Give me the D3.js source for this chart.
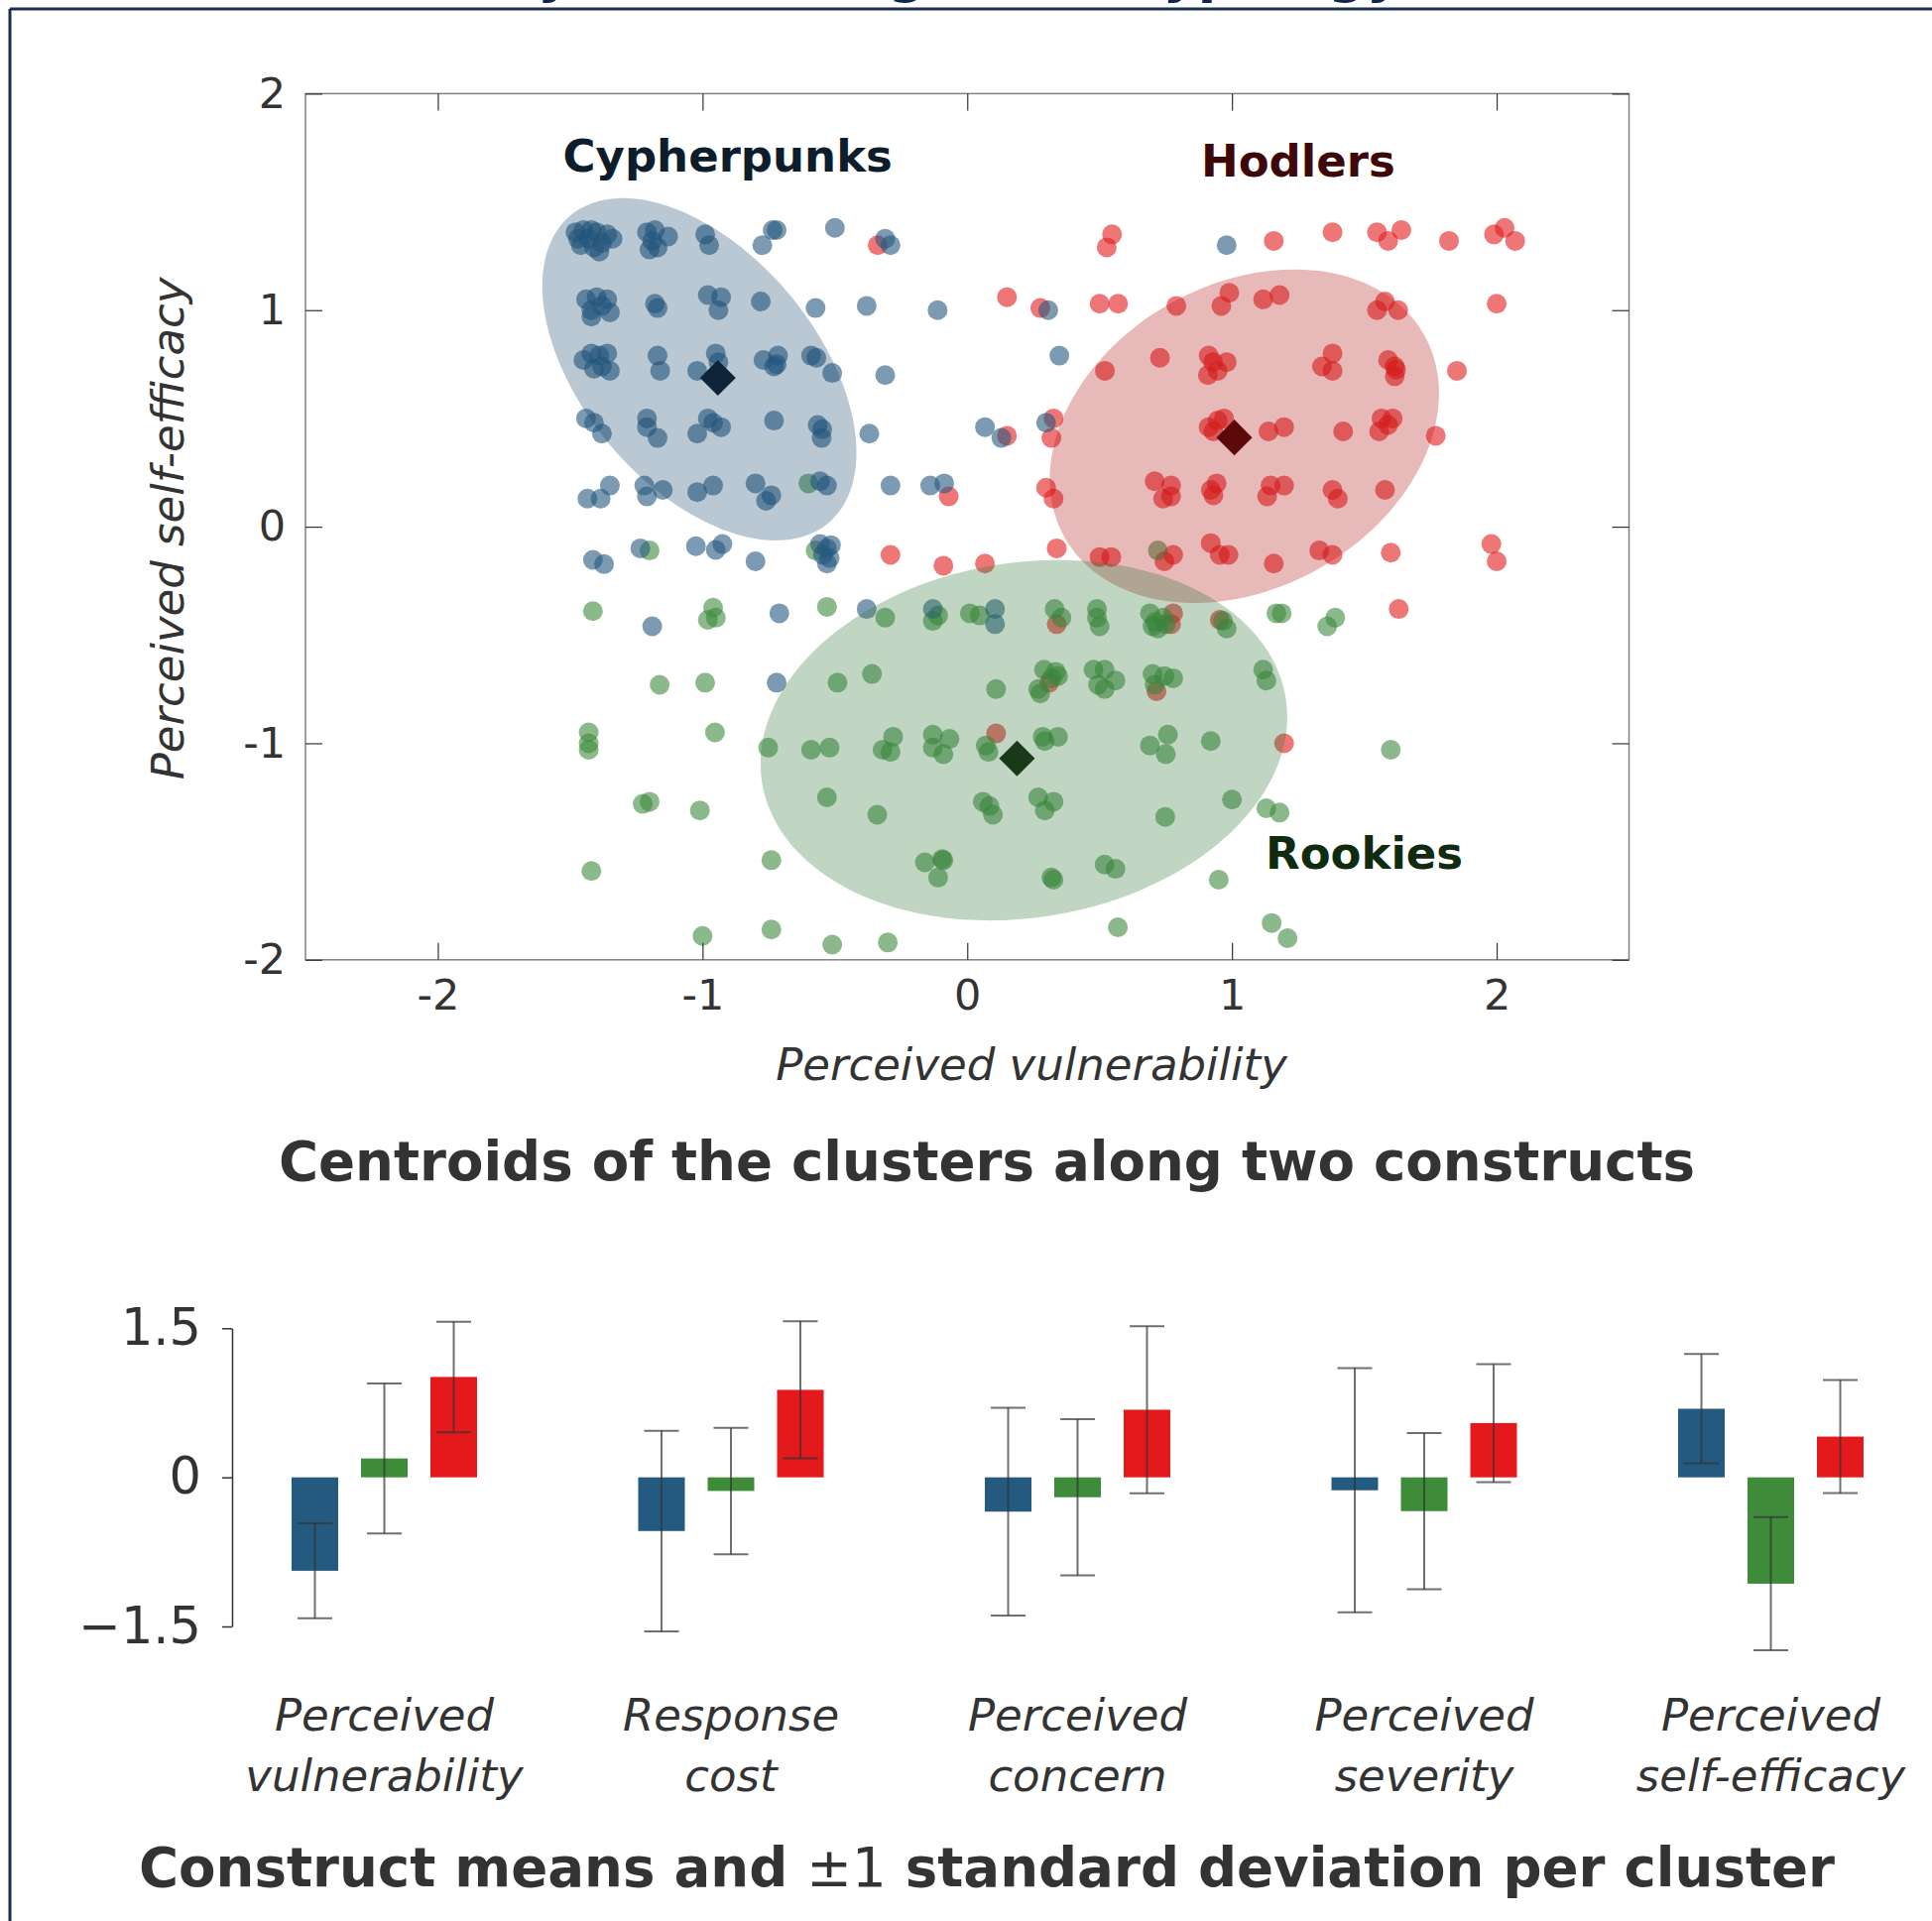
<!DOCTYPE html>
<html>
<head>
<meta charset="utf-8">
<script src="https://cdn.jsdelivr.net/npm/d3@7"></script>
<style>
  body { margin: 0; background: #fff; }
  text { font-family: 'DejaVu Sans', sans-serif; }
</style>
</head>
<body>
<script>
// ---- scatter data: [perceived vulnerability, perceived self-efficacy] per respondent
var cypherpunks = [
  [-1.48, 1.36], [-1.46, 1.30], [-1.45, 1.37], [-1.43, 1.33], [-1.41, 1.29], [-1.40, 1.36], [-1.38, 1.31], [-1.36, 1.35],
  [-1.34, 1.33], [-1.47, 1.33], [-1.42, 1.37], [-1.39, 1.27], [-1.21, 1.36], [-1.19, 1.32], [-1.17, 1.29], [-1.13, 1.34],
  [-1.20, 1.28], [-1.18, 1.37], [-0.99, 1.35], [-0.975, 1.30], [-0.774, 1.30], [-0.735, 1.37], [-0.72, 1.37], [-0.50, 1.38],
  [-0.31, 1.33], [-0.29, 1.30], [0.98, 1.30],
  [-1.44, 1.05], [-1.42, 1.00], [-1.40, 1.06], [-1.38, 1.02], [-1.36, 1.05], [-1.35, 0.99], [-1.42, 0.97], [-1.18, 1.03],
  [-1.17, 1.01], [-0.98, 1.07], [-0.93, 1.06], [-0.94, 1.00], [-0.78, 1.04], [-0.573, 1.01], [-0.38, 1.02], [-0.112, 1.00],
  [0.306, 1.00],
  [-1.45, 0.77], [-1.42, 0.80], [-1.39, 0.79], [-1.38, 0.74], [-1.36, 0.80], [-1.35, 0.72], [-1.41, 0.73], [-1.17, 0.79],
  [-1.16, 0.72], [-1.02, 0.72], [-0.95, 0.80], [-0.94, 0.76], [-0.77, 0.77], [-0.715, 0.79], [-0.72, 0.75], [-0.73, 0.74],
  [-0.59, 0.79], [-0.57, 0.78], [-0.51, 0.71], [-0.31, 0.70], [0.348, 0.79],
  [-1.44, 0.50], [-1.41, 0.48], [-1.38, 0.43], [-1.21, 0.50], [-1.21, 0.46], [-1.17, 0.41], [-1.02, 0.43], [-0.98, 0.50],
  [-0.96, 0.48], [-0.93, 0.46], [-0.73, 0.49], [-0.565, 0.47], [-0.548, 0.45], [-0.55, 0.41], [-0.37, 0.43], [0.067, 0.46],
  [0.129, 0.41], [0.298, 0.48],
  [-1.435, 0.13], [-1.385, 0.13], [-1.35, 0.19], [-1.22, 0.19], [-1.21, 0.14], [-1.15, 0.17], [-1.02, 0.16], [-0.96, 0.19],
  [-0.80, 0.20], [-0.76, 0.12], [-0.74, 0.145], [-0.556, 0.21], [-0.53, 0.19], [-0.29, 0.19], [-0.14, 0.19], [-0.087, 0.20],
  [-1.414, -0.153], [-1.372, -0.173], [-1.235, -0.10], [-1.025, -0.09], [-0.95, -0.107], [-0.925, -0.08], [-0.80, -0.16],
  [-0.556, -0.08], [-0.53, -0.10], [-0.515, -0.085], [-0.545, -0.13], [-0.52, -0.145], [-0.53, -0.17],
  [-1.19, -0.46], [-0.71, -0.40], [-0.38, -0.38], [-0.13, -0.38], [0.105, -0.38], [0.105, -0.45], [-0.72, -0.72]
];

var hodlers = [
  [-0.338, 1.30], [0.547, 1.35], [0.527, 1.29], [1.158, 1.32], [1.38, 1.36], [1.548, 1.36], [1.59, 1.32], [1.64, 1.37],
  [1.82, 1.32], [1.99, 1.35], [2.03, 1.38], [2.07, 1.32],
  [0.15, 1.06], [0.276, 1.01], [0.50, 1.03], [0.57, 1.03], [0.79, 1.02], [0.96, 1.02], [0.99, 1.08], [1.118, 1.05],
  [1.18, 1.07], [1.548, 1.00], [1.578, 1.04], [1.628, 1.00], [2.0, 1.03],
  [0.52, 0.72], [0.728, 0.78], [0.912, 0.79], [0.929, 0.76], [0.98, 0.76], [0.909, 0.70], [0.946, 0.72], [1.34, 0.74],
  [1.38, 0.80], [1.38, 0.72], [1.59, 0.77], [1.615, 0.74], [1.62, 0.725], [1.615, 0.695], [1.85, 0.72],
  [0.15, 0.42], [0.326, 0.50], [0.318, 0.41], [0.912, 0.46], [0.946, 0.49], [0.97, 0.50], [0.93, 0.44], [1.138, 0.44],
  [1.197, 0.46], [1.42, 0.44], [1.565, 0.50], [1.607, 0.50], [1.59, 0.47], [1.556, 0.44], [1.77, 0.42],
  [-0.07, 0.14], [0.298, 0.18], [0.326, 0.13], [0.708, 0.21], [0.77, 0.19], [0.74, 0.13], [0.77, 0.14], [0.942, 0.20],
  [0.93, 0.145], [0.92, 0.17], [1.146, 0.19], [1.197, 0.19], [1.133, 0.14], [1.38, 0.17], [1.40, 0.13], [1.578, 0.17],
  [-0.29, -0.13], [-0.09, -0.18], [0.067, -0.17], [0.338, -0.10], [0.50, -0.14], [0.544, -0.14], [0.778, -0.13],
  [0.745, -0.16], [0.92, -0.076], [0.954, -0.13], [0.987, -0.13], [1.158, -0.17], [1.33, -0.11], [1.38, -0.13],
  [1.6, -0.12], [1.98, -0.08], [2.0, -0.16],
  [0.338, -0.45], [0.778, -0.40], [0.77, -0.45], [0.954, -0.43], [1.63, -0.38], [0.31, -0.72], [0.715, -0.76],
  [0.109, -0.955], [1.197, -1.0]
];

var rookies = [
  [-0.60, 0.20], [-1.20, -0.11], [-0.573, -0.11], [0.72, -0.11],
  [-1.414, -0.39], [-0.96, -0.374], [-0.95, -0.42], [-0.98, -0.43], [-0.53, -0.37], [-0.31, -0.42], [-0.13, -0.435],
  [-0.11, -0.41], [0.01, -0.40], [0.047, -0.41], [0.33, -0.38], [0.356, -0.42], [0.49, -0.38], [0.49, -0.42], [0.50, -0.46],
  [0.69, -0.40], [0.71, -0.44], [0.72, -0.47], [0.74, -0.42], [0.75, -0.45], [0.70, -0.46], [0.966, -0.435], [0.98, -0.47],
  [1.168, -0.40], [1.188, -0.40], [1.36, -0.46], [1.39, -0.42],
  [-1.162, -0.73], [-0.99, -0.72], [-0.49, -0.72], [-0.36, -0.68], [0.109, -0.75], [0.29, -0.66], [0.335, -0.67],
  [0.343, -0.69], [0.268, -0.75], [0.276, -0.77], [0.318, -0.70], [0.477, -0.66], [0.519, -0.66], [0.56, -0.71],
  [0.494, -0.73], [0.519, -0.75], [0.70, -0.68], [0.745, -0.69], [0.778, -0.70], [0.708, -0.73], [1.118, -0.66], [1.13, -0.71],
  [-1.43, -0.95], [-1.43, -1.0], [-1.43, -1.03], [-0.953, -0.95], [-0.752, -1.02], [-0.59, -1.03], [-0.52, -1.02],
  [-0.32, -1.03], [-0.29, -1.04], [-0.28, -0.97], [-0.13, -0.96], [-0.09, -1.05], [-0.067, -0.98], [-0.13, -1.02],
  [0.07, -1.01], [0.08, -1.04], [0.285, -0.97], [0.293, -0.99], [0.343, -0.97], [0.69, -1.01], [0.758, -0.96], [0.75, -1.05],
  [0.92, -0.99], [1.60, -1.03],
  [-1.226, -1.28], [-1.20, -1.27], [-1.01, -1.31], [-0.53, -1.25], [-0.34, -1.33], [0.059, -1.27], [0.084, -1.29],
  [0.097, -1.33], [0.268, -1.25], [0.326, -1.27], [0.293, -1.31], [0.748, -1.34], [1.0, -1.26], [1.13, -1.30], [1.18, -1.32],
  [-1.42, -1.59], [-0.74, -1.54], [-0.16, -1.55], [-0.095, -1.535], [-0.09, -1.54], [-0.11, -1.62], [0.318, -1.62],
  [0.326, -1.63], [0.519, -1.56], [0.56, -1.58], [0.95, -1.63],
  [-1.0, -1.89], [-0.74, -1.86], [-0.51, -1.93], [-0.30, -1.92], [0.569, -1.85], [1.15, -1.83], [1.21, -1.90]
];

// order: Cypherpunks, Rookies, Hodlers
var clusterNames = ['Cypherpunks', 'Rookies', 'Hodlers'];
var centroidX = [-0.942, 0.188, 1.009];
var centroidY = [0.687, -1.070, 0.412];
var ellipseCenter = [[-1.012, 0.727], [0.214, -0.986], [1.047, 0.418]];
var ellipseMajor = [[0.487, -0.710], [0.989, 0.196], [0.678, 0.470]];
var ellipseMinor = [[-0.339, -0.347], [0.107, -0.809], [0.284, -0.610]];
var scatterTicks = [-2, -1, 0, 1, 2];

// ---- bar data: construct means and standard deviations per cluster
var constructs = [['Perceived', 'vulnerability'], ['Response', 'cost'], ['Perceived', 'concern'],
  ['Perceived', 'severity'], ['Perceived', 'self-efficacy']];
var meanCypherpunks = [-0.94, -0.54, -0.345, -0.13, 0.69];
var meanRookies = [0.19, -0.137, -0.20, -0.34, -1.07];
var meanHodlers = [1.01, 0.88, 0.68, 0.546, 0.41];
var sdCypherpunks = [0.478, 1.009, 1.045, 1.228, 0.55];
var sdRookies = [0.755, 0.636, 0.785, 0.785, 0.67];
var sdHodlers = [0.556, 0.69, 0.84, 0.594, 0.569];
var barTicks = [-1.5, 0, 1.5];

var pointColor = ['#25587f', '#3e8a3e', '#e41a1c'];
var ellipseColor = ['#1c4870', '#307637', '#b21616'];
var centroidColor = ['#0f2438', '#1a391a', '#5d0909'];
var labelColor = ['#0e1d2b', '#102b10', '#3f0808'];
var barColor = ['#245a80', '#3e8b3a', '#e4191c'];

var svg = d3.select('body').append('svg').attr('width', 1948).attr('height', 1937);

// frame and (cropped) figure title
svg.append('text')
  .attr('x', 325).attr('y', -8)
  .attr('font-size', 54).attr('font-weight', 'bold').attr('fill', '#0d2550')
  .text('Security risk management typology');
svg.append('line').attr('x1', 10).attr('x2', 1948).attr('y1', 9).attr('y2', 9)
  .attr('stroke', '#1c2d52').attr('stroke-width', 3);
svg.append('line').attr('x1', 10).attr('x2', 10).attr('y1', 9).attr('y2', 1937)
  .attr('stroke', '#1c2d52').attr('stroke-width', 3);

// ---------- scatter ----------
var x = d3.scaleLinear().domain([-2.5, 2.5]).range([308, 1642.5]);
var y = d3.scaleLinear().domain([-2, 2]).range([967.8, 94.4]);

var sets = [cypherpunks, rookies, hodlers];
var drawOrder = [2, 1, 0];
var pts = svg.append('g');
drawOrder.forEach(function (i) {
  pts.selectAll(null).data(sets[i]).enter().append('circle')
    .attr('cx', function (d) { return x(d[0]); })
    .attr('cy', function (d) { return y(d[1]); })
    .attr('r', 10)
    .attr('fill', pointColor[i])
    .attr('fill-opacity', 0.6);
});

var angles = d3.range(0, 360, 3).map(function (a) { return a * Math.PI / 180; });
var ellipseLine = d3.line().curve(d3.curveCardinalClosed);
[0, 2, 1].forEach(function (i) {
  var c = ellipseCenter[i], M = ellipseMajor[i], m = ellipseMinor[i];
  var ring = angles.map(function (t) {
    return [x(c[0] + Math.cos(t) * M[0] + Math.sin(t) * m[0]),
            y(c[1] + Math.cos(t) * M[1] + Math.sin(t) * m[1])];
  });
  svg.append('path').attr('d', ellipseLine(ring))
    .attr('fill', ellipseColor[i]).attr('fill-opacity', 0.3);
});

svg.append('g').selectAll('path').data(clusterNames).enter().append('path')
  .attr('d', d3.symbol().type(d3.symbolSquare).size(650))
  .attr('transform', function (d, i) {
    return 'translate(' + x(centroidX[i]) + ',' + y(centroidY[i]) + ') rotate(45)';
  })
  .attr('fill', function (d, i) { return centroidColor[i]; });

var labelPos = [[-0.905, 1.64], [1.50, -1.58], [1.25, 1.615]];
svg.append('g').selectAll('text').data(clusterNames).enter().append('text')
  .attr('x', function (d, i) { return x(labelPos[i][0]); })
  .attr('y', function (d, i) { return y(labelPos[i][1]); })
  .attr('text-anchor', 'middle').attr('font-size', 45).attr('font-weight', 'bold')
  .attr('fill', function (d, i) { return labelColor[i]; })
  .text(function (d) { return d; });

// box
svg.append('rect')
  .attr('x', x(-2.5)).attr('y', y(2))
  .attr('width', x(2.5) - x(-2.5)).attr('height', y(-2) - y(2))
  .attr('fill', 'none').attr('stroke', '#808080').attr('stroke-width', 1.5);

function styleAxis(g, fs) {
  g.select('.domain').remove();
  g.selectAll('.tick line').attr('stroke', '#333').attr('stroke-width', 1.2);
  g.selectAll('.tick text').attr('font-size', fs).attr('fill', '#333').attr('font-family', 'DejaVu Sans');
}
var fmt = function (d) { return String(d); };
svg.append('g').attr('transform', 'translate(0,' + y(-2) + ')')
  .call(d3.axisBottom(x).tickValues(scatterTicks).tickFormat(fmt).tickSizeInner(-17).tickSizeOuter(0).tickPadding(20))
  .call(styleAxis, 43);
svg.append('g').attr('transform', 'translate(0,' + y(2) + ')')
  .call(d3.axisTop(x).tickValues(scatterTicks).tickFormat('').tickSizeInner(-17).tickSizeOuter(0))
  .call(styleAxis, 43);
svg.append('g').attr('transform', 'translate(' + x(-2.5) + ',0)')
  .call(d3.axisLeft(y).tickValues(scatterTicks).tickFormat(fmt).tickSizeInner(-17).tickSizeOuter(0).tickPadding(20))
  .call(styleAxis, 43);
svg.append('g').attr('transform', 'translate(' + x(2.5) + ',0)')
  .call(d3.axisRight(y).tickValues(scatterTicks).tickFormat('').tickSizeInner(-17).tickSizeOuter(0))
  .call(styleAxis, 43);

svg.append('text').attr('x', 1040).attr('y', 1089).attr('text-anchor', 'middle')
  .attr('font-size', 45).attr('font-style', 'italic').attr('fill', '#333')
  .text('Perceived vulnerability');
svg.append('text').attr('transform', 'translate(185,533) rotate(-90)').attr('text-anchor', 'middle')
  .attr('font-size', 45).attr('font-style', 'italic').attr('fill', '#333')
  .text('Perceived self-efficacy');

svg.append('text').attr('x', 995).attr('y', 1190).attr('text-anchor', 'middle')
  .attr('font-size', 54.6).attr('font-weight', 'bold').attr('fill', '#333')
  .text('Centroids of the clusters along two constructs');

// ---------- bars ----------
var yb = d3.scaleLinear().domain([-1.5, 1.5]).range([1640, 1339.3]);
var x0 = d3.scaleBand().domain(d3.range(constructs.length)).range([212.75, 1960.25]);
var x1 = d3.scalePoint().domain(clusterNames).range([-70, 70]);
var barW = 47;

var means = [meanCypherpunks, meanRookies, meanHodlers];
var sds = [sdCypherpunks, sdRookies, sdHodlers];
var rows = [];
constructs.forEach(function (c, j) {
  clusterNames.forEach(function (name, i) {
    rows.push({ j: j, i: i, name: name, mean: means[i][j], sd: sds[i][j] });
  });
});
function cx(d) { return x0(d.j) + x0.bandwidth() / 2 + x1(d.name); }

svg.append('g').selectAll('rect').data(rows).enter().append('rect')
  .attr('x', function (d) { return cx(d) - barW / 2; })
  .attr('y', function (d) { return yb(Math.max(0, d.mean)); })
  .attr('width', barW)
  .attr('height', function (d) { return Math.abs(yb(d.mean) - yb(0)); })
  .attr('fill', function (d) { return barColor[d.i]; });

var err = svg.append('g').selectAll('g').data(rows).enter().append('g')
  .attr('stroke', '#333').attr('stroke-opacity', 0.7).attr('stroke-width', 2);
err.append('line')
  .attr('x1', cx).attr('x2', cx)
  .attr('y1', function (d) { return yb(d.mean + d.sd); })
  .attr('y2', function (d) { return yb(d.mean - d.sd); });
[1, -1].forEach(function (s) {
  err.append('line')
    .attr('x1', function (d) { return cx(d) - 17.5; })
    .attr('x2', function (d) { return cx(d) + 17.5; })
    .attr('y1', function (d) { return yb(d.mean + s * d.sd); })
    .attr('y2', function (d) { return yb(d.mean + s * d.sd); });
});

svg.append('g').attr('transform', 'translate(234,0)')
  .call(d3.axisLeft(yb).tickValues(barTicks)
    .tickFormat(function (d) { return d === 0 ? '0' : d3.format('.1f')(d); })
    .tickSize(10).tickSizeOuter(0).tickPadding(21))
  .call(function (g) {
    g.select('.domain').attr('stroke', '#333').attr('stroke-width', 1.5);
    g.selectAll('.tick line').attr('stroke', '#333').attr('stroke-width', 1.5);
    g.selectAll('.tick text').attr('font-size', 51).attr('fill', '#333').attr('font-family', 'DejaVu Sans');
  });

var lab = svg.append('g').selectAll('text').data(constructs).enter().append('text')
  .attr('text-anchor', 'middle').attr('font-size', 45).attr('font-style', 'italic').attr('fill', '#333');
lab.append('tspan')
  .attr('x', function (d, j) { return x0(j) + x0.bandwidth() / 2; })
  .attr('y', 1745).text(function (d) { return d[0]; });
lab.append('tspan')
  .attr('x', function (d, j) { return x0(j) + x0.bandwidth() / 2; })
  .attr('y', 1806).text(function (d) { return d[1]; });

var t3 = svg.append('text').attr('x', 995).attr('y', 1902).attr('text-anchor', 'middle')
  .attr('font-size', 54.6).attr('font-weight', 'bold').attr('fill', '#333');
t3.append('tspan').text('Construct means and ');
t3.append('tspan').attr('font-weight', 'normal').text('\u00b11');
t3.append('tspan').text(' standard deviation per cluster');
</script>
</body>
</html>
